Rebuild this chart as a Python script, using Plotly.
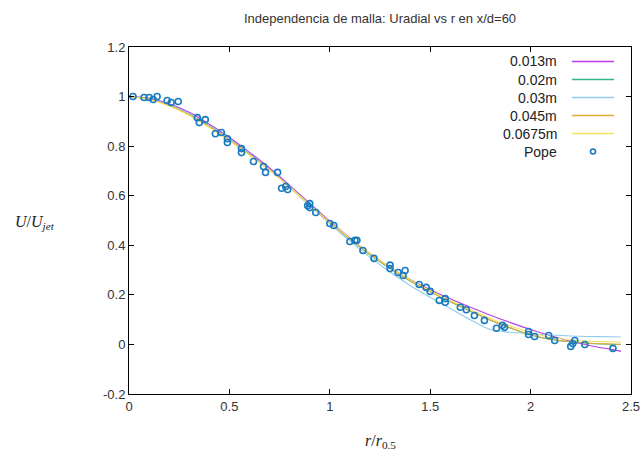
import plotly.graph_objects as go

# ---- data ----
r_grid = [0, 0.1, 0.2, 0.3, 0.4, 0.5, 0.6, 0.7, 0.8, 0.9, 1.0, 1.1, 1.2, 1.3,
          1.4, 1.5, 1.6, 1.7, 1.8, 1.9, 2.0, 2.1, 2.2, 2.3, 2.4, 2.45]
u_0013 = [1.0, 0.993, 0.971, 0.937, 0.888, 0.835, 0.775, 0.712, 0.642, 0.569, 0.497, 0.43, 0.367,
          0.311, 0.262, 0.221, 0.184, 0.15, 0.118, 0.088, 0.06, 0.035, 0.013, -0.005, -0.02, -0.028]
u_002 = [1.0, 0.99, 0.966, 0.93, 0.881, 0.828, 0.768, 0.705, 0.635, 0.562, 0.49, 0.424, 0.362,
         0.306, 0.256, 0.212, 0.172, 0.134, 0.098, 0.066, 0.038, 0.02, 0.01, 0.004, 0.001, 0.0]
u_003 = [1.0, 0.99, 0.966, 0.93, 0.881, 0.828, 0.768, 0.705, 0.635, 0.562, 0.488, 0.418, 0.352,
         0.292, 0.238, 0.19, 0.145, 0.1, 0.06, 0.049, 0.043, 0.038, 0.034, 0.032, 0.031, 0.03]
u_0045 = [1.0, 0.989, 0.964, 0.927, 0.878, 0.825, 0.766, 0.704, 0.635, 0.563, 0.492, 0.426, 0.364,
          0.308, 0.258, 0.214, 0.173, 0.135, 0.099, 0.067, 0.039, 0.021, 0.011, 0.005, 0.002, 0.001]
u_00675 = [1.0, 0.988, 0.962, 0.924, 0.875, 0.822, 0.764, 0.703, 0.635, 0.564, 0.494, 0.428, 0.367,
           0.311, 0.261, 0.217, 0.177, 0.14, 0.105, 0.074, 0.047, 0.029, 0.018, 0.013, 0.011, 0.01]

pope_r = [0.02, 0.075, 0.1, 0.12, 0.14, 0.19, 0.21, 0.245, 0.34, 0.35, 0.38, 0.43, 0.46, 0.49, 0.49,
          0.56, 0.56, 0.62, 0.67, 0.68, 0.74, 0.76, 0.79, 0.78, 0.89, 0.90, 0.90, 0.93, 1.0, 1.02,
          1.10, 1.125, 1.135, 1.165, 1.22, 1.30, 1.30, 1.34, 1.365, 1.375, 1.445, 1.48, 1.50,
          1.545, 1.575, 1.575, 1.65, 1.68, 1.72, 1.77, 1.83, 1.86, 1.87, 1.99, 1.99, 2.02,
          2.09, 2.12, 2.20, 2.21, 2.22, 2.27, 2.41]
pope_u = [1.0, 0.996, 0.996, 0.988, 1.0, 0.984, 0.976, 0.98, 0.915, 0.895, 0.907, 0.85, 0.855, 0.83, 0.815,
          0.79, 0.774, 0.738, 0.718, 0.694, 0.694, 0.63, 0.625, 0.637, 0.56, 0.552, 0.568, 0.532, 0.488, 0.48,
          0.415, 0.42, 0.42, 0.379, 0.347, 0.306, 0.32, 0.29, 0.278, 0.298, 0.242, 0.23, 0.214,
          0.177, 0.185, 0.17, 0.15, 0.14, 0.117, 0.097, 0.065, 0.077, 0.069, 0.04, 0.052, 0.032,
          0.036, 0.016, -0.008, 0.004, 0.016, 0.0, -0.016]

series_names = ["0.013m", "0.02m", "0.03m", "0.045m", "0.0675m"]
series_vals = [u_0013, u_002, u_003, u_0045, u_00675]
series_colors = ["#b63ee6", "#35b58f", "#8fcbf0", "#e9aa3a", "#f0e35e"]
pope_color = "#1a7abf"

x_ticks = [0, 0.5, 1, 1.5, 2, 2.5]
x_ticktext = ["0", "0.5", "1", "1.5", "2", "2.5"]
y_ticks = [-0.2, 0, 0.2, 0.4, 0.6, 0.8, 1.0, 1.2]
y_ticktext = ["-0.2", "0", "0.2", "0.4", "0.6", "0.8", "1", "1.2"]

W, H = 644, 457
L, R, T, B = 129, 13, 47, 63
pw, ph = W - L - R, H - T - B

def px(xp):
    return (xp - L) / pw

def py(yp):
    return (H - B - yp) / ph

fig = go.Figure()
for name, vals, col in zip(series_names, series_vals, series_colors):
    fig.add_trace(go.Scatter(x=r_grid, y=vals, mode="lines", name=name,
                             line=dict(color=col, width=1.1), line_shape="spline",
                             showlegend=False))
fig.add_trace(go.Scatter(x=pope_r, y=pope_u, mode="markers", name="Pope",
                         marker=dict(symbol="circle-open", size=6, color=pope_color,
                                     line=dict(width=1.6, color=pope_color)),
                         showlegend=False))

annotations = []
shapes = []
legend_rows = [61.5, 79.5, 97.5, 115.5, 133.5, 151.5]
legend_labels = series_names + ["Pope"]
for i, (lab, yrow) in enumerate(zip(legend_labels, legend_rows)):
    annotations.append(dict(x=px(559), y=py(yrow), xref="paper", yref="paper",
                            text=lab, showarrow=False, xanchor="right", yanchor="middle",
                            font=dict(family="Liberation Sans, Arial", size=14, color="#222")))
    if i < 5:
        shapes.append(dict(type="line", xref="paper", yref="paper",
                           x0=px(572), x1=px(614), y0=py(yrow), y1=py(yrow),
                           line=dict(color=series_colors[i], width=1.5)))
    else:
        shapes.append(dict(type="circle", xref="paper", yref="paper",
                           xsizemode="pixel", ysizemode="pixel",
                           xanchor=px(593), yanchor=py(yrow),
                           x0=-2.5, x1=2.5, y0=-2.5, y1=2.5,
                           line=dict(color=pope_color, width=1.6)))

annotations.append(dict(x=0.5, y=py(18), xref="paper", yref="paper",
                        text="Independencia de malla: Uradial vs r en x/d=60",
                        showarrow=False, xanchor="center", yanchor="middle",
                        font=dict(family="Liberation Sans, Arial", size=13, color="#333")))
annotations.append(dict(x=0.5, y=py(441), xref="paper", yref="paper",
                        text="<i>r</i>/<i>r</i><sub>0.5</sub>",
                        showarrow=False, xanchor="center", yanchor="middle",
                        font=dict(family="Liberation Serif, serif", size=16, color="#222")))
annotations.append(dict(x=px(35), y=py(222), xref="paper", yref="paper",
                        text="<i>U</i>/<i>U</i><sub><i>jet</i></sub>",
                        showarrow=False, xanchor="center", yanchor="middle",
                        font=dict(family="Liberation Serif, serif", size=16, color="#222")))

axis_common = dict(showgrid=False, zeroline=False, showline=True, linecolor="black",
                   linewidth=1, mirror="ticks", ticks="inside", ticklen=5,
                   tickcolor="black", tickwidth=1, automargin=False,
                   tickfont=dict(family="Liberation Sans, Arial", size=13, color="#333"))

fig.update_layout(
    width=W, height=H,
    margin=dict(l=L, r=R, t=T, b=B, autoexpand=False),
    plot_bgcolor="white", paper_bgcolor="white",
    showlegend=False,
    xaxis=dict(range=[0, 2.5], tickvals=x_ticks, ticktext=x_ticktext, **axis_common),
    yaxis=dict(range=[-0.2, 1.2], tickvals=y_ticks, ticktext=y_ticktext, **axis_common),
    annotations=annotations,
    shapes=shapes,
)
fig.write_html("out.html")
